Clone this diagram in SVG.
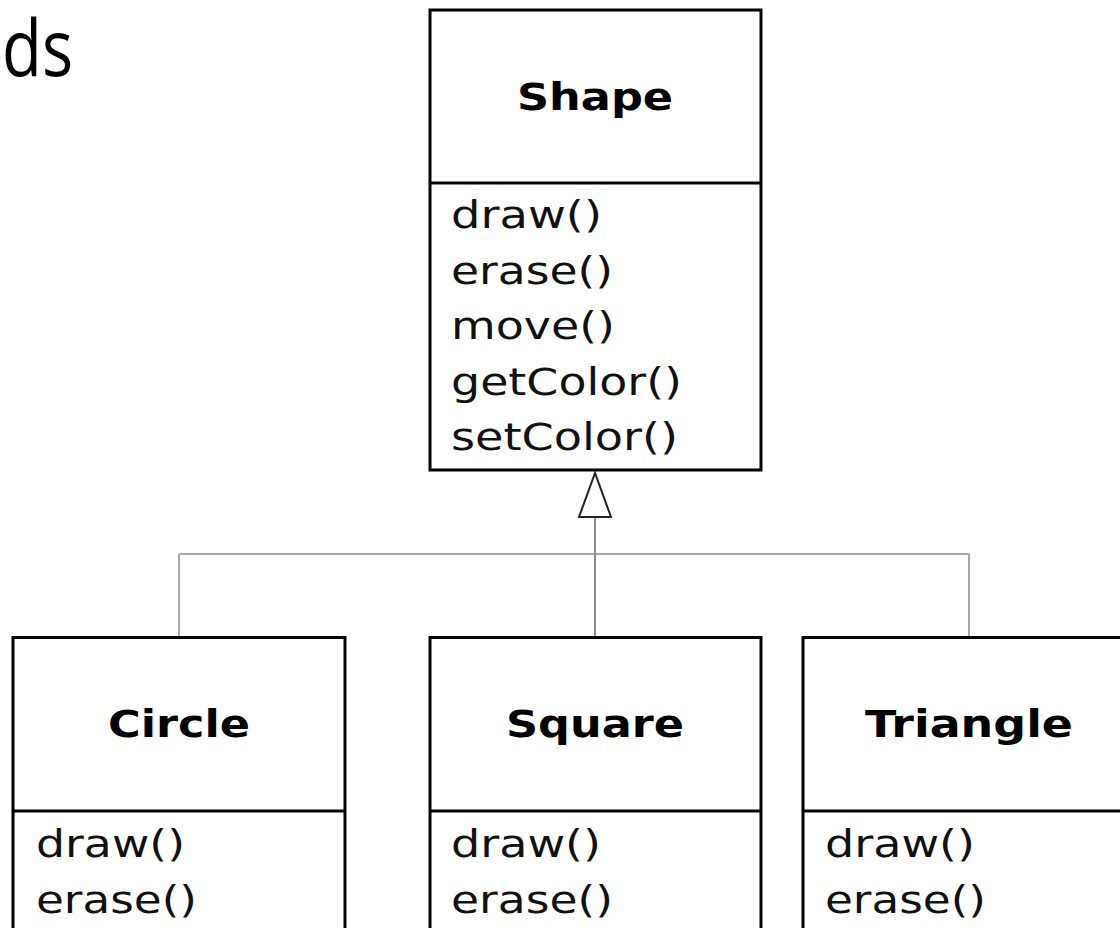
<svg xmlns="http://www.w3.org/2000/svg" width="1120" height="928" viewBox="0 0 1120 928">
<style>
.box{fill:#fff;stroke:#000;stroke-width:3}
.div{stroke:#000;stroke-width:3}
.title{font-family:"DejaVu Sans",Verdana,sans-serif;font-weight:bold;font-size:37px;fill:#000;text-anchor:middle}
.m{font-family:"DejaVu Sans",Verdana,sans-serif;font-size:37px;fill:#111}
.conn{stroke:#a8a8a8;stroke-width:2;fill:none}
.head{fill:#fff;stroke:#222;stroke-width:2}
</style>
<rect width="1120" height="928" fill="#fff"/>
<text x="2" y="76" font-family="'Open Sans','Liberation Sans',sans-serif" font-size="78" fill="#000" textLength="71" lengthAdjust="spacingAndGlyphs">ds</text>
<g id="connectors">
<line class="conn" x1="179" y1="554" x2="969" y2="554"/>
<line class="conn" x1="179" y1="554" x2="179" y2="636"/>
<line class="conn" x1="969" y1="554" x2="969" y2="636"/>
<line class="conn" x1="595" y1="518" x2="595" y2="636" style="stroke:#8a8a8a"/>
<polygon class="head" points="595,473 579,517 611,517"/>
</g>
<g id="shape">
<rect class="box" x="430" y="10" width="331" height="460"/>
<line class="div" x1="430" y1="183" x2="761" y2="183"/>
<text class="title" x="595" y="110" textLength="156" lengthAdjust="spacingAndGlyphs">Shape</text>
<text class="m" x="451" y="228" textLength="151" lengthAdjust="spacingAndGlyphs">draw()</text>
<text class="m" x="451" y="283.5" textLength="162" lengthAdjust="spacingAndGlyphs">erase()</text>
<text class="m" x="451" y="339" textLength="164" lengthAdjust="spacingAndGlyphs">move()</text>
<text class="m" x="451" y="394.5" textLength="231" lengthAdjust="spacingAndGlyphs">getColor()</text>
<text class="m" x="451" y="450" textLength="227" lengthAdjust="spacingAndGlyphs">setColor()</text>
</g>
<g id="circle">
<rect class="box" x="13" y="637.5" width="332" height="320"/>
<line class="div" x1="13" y1="811" x2="345" y2="811"/>
<text class="title" x="179" y="737" textLength="142" lengthAdjust="spacingAndGlyphs">Circle</text>
<text class="m" x="36" y="857" textLength="149" lengthAdjust="spacingAndGlyphs">draw()</text>
<text class="m" x="36" y="913" textLength="161" lengthAdjust="spacingAndGlyphs">erase()</text>
</g>
<g id="square">
<rect class="box" x="430" y="637.5" width="331" height="320"/>
<line class="div" x1="430" y1="811" x2="761" y2="811"/>
<text class="title" x="595" y="737" textLength="178" lengthAdjust="spacingAndGlyphs">Square</text>
<text class="m" x="451" y="857" textLength="150" lengthAdjust="spacingAndGlyphs">draw()</text>
<text class="m" x="451" y="913" textLength="162" lengthAdjust="spacingAndGlyphs">erase()</text>
</g>
<g id="triangle">
<rect class="box" x="803" y="637.5" width="340" height="320"/>
<line class="div" x1="803" y1="811" x2="1143" y2="811"/>
<text class="title" x="969" y="737" textLength="208" lengthAdjust="spacingAndGlyphs">Triangle</text>
<text class="m" x="825" y="857" textLength="150" lengthAdjust="spacingAndGlyphs">draw()</text>
<text class="m" x="825" y="913" textLength="161" lengthAdjust="spacingAndGlyphs">erase()</text>
</g>
</svg>
